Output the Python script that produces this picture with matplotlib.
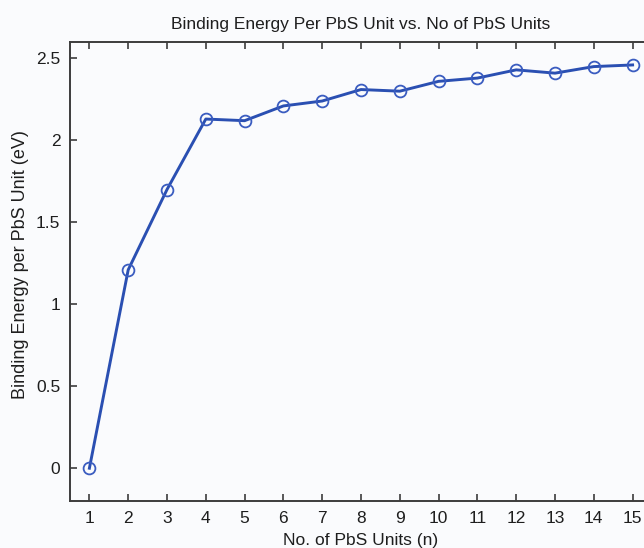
import matplotlib
matplotlib.use("Agg")
import matplotlib.pyplot as plt

n_units = [1, 2, 3, 4, 5, 6, 7, 8, 9, 10, 11, 12, 13, 14, 15]
binding_energy = [0.0, 1.21, 1.70, 2.13, 2.12, 2.21, 2.24, 2.31, 2.30, 2.36, 2.38, 2.43, 2.41, 2.45, 2.46]
y_ticks = [0, 0.5, 1, 1.5, 2, 2.5]
y_tick_labels = ["0", "0.5", "1", "1.5", "2", "2.5"]

plt.rcParams['font.family'] = ['Liberation Sans', 'DejaVu Sans']

W, H = 644, 548
fig = plt.figure(figsize=(W / 100, H / 100), dpi=100)
bg = "#fafbfd"
fig.patch.set_facecolor(bg)

left, right, top, bottom = 70, 652, 42, 501
ax = fig.add_axes([left / W, 1 - bottom / H, (right - left) / W, (bottom - top) / H])
ax.set_facecolor(bg)

ax.plot(n_units, binding_energy, color="#2a4fb2", linewidth=2.1,
        marker="o", markersize=8.5, markerfacecolor="none",
        markeredgecolor="#3a5cc0", markeredgewidth=1.3)

ax.set_xlim(0.5, 15.5)
ax.set_ylim(-0.2, 2.6)
ax.set_xticks(n_units)
ax.set_yticks(y_ticks)
ax.set_yticklabels(y_tick_labels)

for s in ax.spines.values():
    s.set_color("#3c3c3c")
    s.set_linewidth(1.4)

ax.tick_params(direction="in", length=5, width=1.2, color="#3c3c3c",
               labelsize=12.5, labelcolor="#1e1e1e", top=True, right=True, pad=7)

ax.set_title("Binding Energy Per PbS Unit vs. No of PbS Units", fontsize=12.5,
             color="#1e1e1e", pad=9)
ax.set_xlabel("No. of PbS Units (n)", fontsize=12.5, color="#1e1e1e", labelpad=5)
ax.set_ylabel("Binding Energy per PbS Unit (eV)", fontsize=13, color="#1e1e1e")
ax.yaxis.set_label_coords(-41 / (right - left), 0.515)

fig.savefig("out.png", dpi=100, facecolor=bg)
